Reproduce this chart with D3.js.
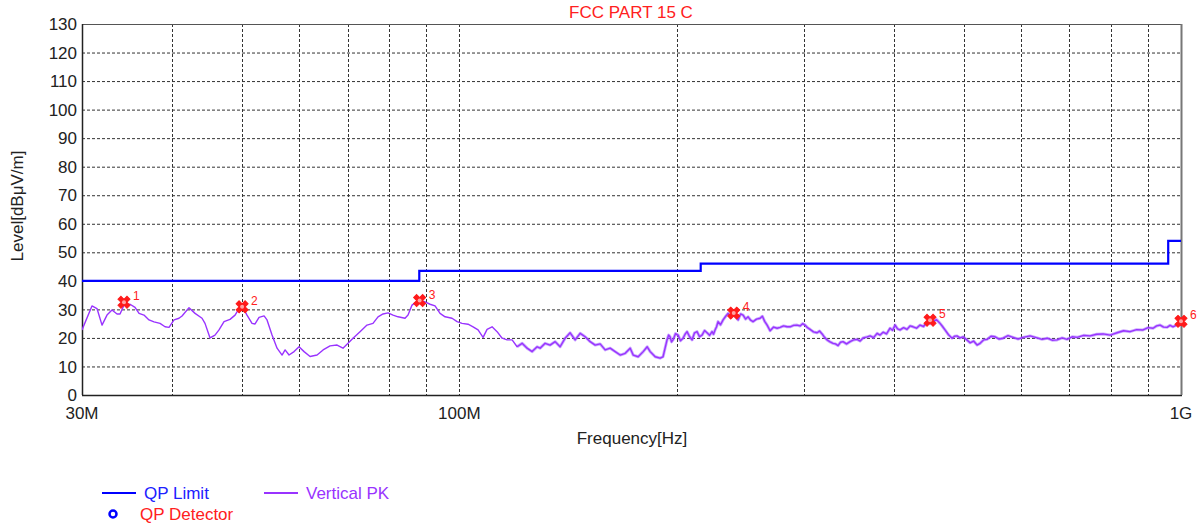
<!DOCTYPE html>
<html><head><meta charset="utf-8">
<script src="https://cdn.jsdelivr.net/npm/d3@7"></script>
<style>
body{margin:0;background:#fff;}
svg{display:block;font-family:"Liberation Sans",Arial,sans-serif;}
</style></head>
<body><svg id="c" width="1198" height="524"></svg>
<script>
// ---- data ----
const title = "FCC PART 15 C";
const yTicks = [0,10,20,30,40,50,60,70,80,90,100,110,120,130];
const xTickLabels = [{f:30,t:"30M"},{f:100,t:"100M"},{f:1000,t:"1G"}];
const xGrid = [40,50,60,70,80,90,100,200,300,400,500,600,700,800,900];
// QP limit (MHz, dBuV/m) step points
const limitFreq = [30,88,88,216,216,960,960,1000];
const limitLevel = [40,40,43.5,43.5,46,46,54,54];
// Vertical PK trace (MHz)
const pkFreq = [30.0,30.97,31.47,31.98,32.49,33.01,33.55,33.87,34.30,34.97,35.53,35.99,36.56,37.15,37.75,38.48,39.10,39.60,40.24,40.88,41.28,42.21,43.03,44.00,44.42,45.14,45.86,46.45,47.20,48.11,48.89,49.51,49.99,50.79,51.61,52.11,52.78,53.63,54.14,55.01,55.90,56.80,57.35,58.08,59.02,59.96,60.93,62.11,63.51,64.74,66.20,67.70,68.99,70.10,71.23,72.84,74.48,75.92,77.15,78.39,79.65,80.93,82.24,84.09,84.90,85.99,86.82,88.22,89.63,91.08,92.54,94.03,95.55,97.70,99.28,100.87,102.82,104.48,106.16,107.87,109.25,111.01,112.80,114.62,116.46,118.34,120.24,122.18,124.14,126.14,128.17,129.40,131.48,133.60,135.75,137.93,140.15,142.41,144.70,147.03,149.39,151.80,154.24,156.72,159.25,161.81,164.41,167.06,169.75,172.48,174.14,176.94,179.79,182.10,183.85,186.81,189.72,191.54,
194.0,195.0,195.87,196.8,197.75,199.3,200.94,202.5,204.17,205.5,206.79,208.4,210.12,211.8,213.50,215.2,216.93,218.7,220.43,222.2,223.97,225.0,226.13,227.2,228.30,230.1,231.98,233.8,235.71,237.6,239.50,241.4,243.36,245.3,247.28,249.3,251.26,253.3,255.30,258.1,261.07,263.0,264.9,267.0,269.53,272.6,275.62,278.27,281.4,284.54,287.28,290.5,293.77,296.57,299.0,301.3,303.7,306.2,309.6,313.1,315.6,318.2,320.7,323.3,326.4,329.5,332.1,334.8,337.5,340.2,344.0,347.9,351.8,355.8,359.2,362.6,366.7,370.8,375.0,379.2,382.8,386.5,390.8,395.2,398.4,401.6,404.8,408.0,412.6,417.2,421.2,425.3,430.1,434.9,439.8,444.7,449.0,453.3,458.4,463.6,467.3,471.0,476.3,481.7,485.5,489.4,494.1,498.9,504.5,510.2,515.9,521.7,526.7,532.6,538.6,545.5,552.5,559.6,566.8,575.9,585.2,594.6,604.2,617.8,631.8,642.0,652.3,662.8,673.4,684.3,695.3,706.5,717.8,733.0,748.2,764.0,779.9,797.5,815.5,832.7,850.0,868.0,886.0,900.4,914.8,925.0,935.5,946.0,956.6,965.8,975.0,987.0,1000];
const pkLevel = [22.8,31.2,30.3,24.5,28.0,29.8,28.4,28.4,31.5,31.8,30.7,28.6,28.0,26.3,25.6,25.1,23.9,23.7,26.3,26.9,27.7,30.6,28.6,26.9,25.1,20.0,21.0,22.8,25.7,26.5,28.0,30.3,31.2,28.0,25.1,24.9,27.2,27.7,26.3,21.0,16.4,14.0,15.8,14.0,15.2,16.9,15.2,13.5,14.0,15.8,17.2,17.5,16.4,18.1,19.9,22.2,24.5,25.1,27.4,28.4,28.8,28.0,27.4,26.9,28.0,31.5,32.3,33.2,32.6,31.8,31.2,28.6,27.4,26.9,25.7,25.1,24.8,23.9,22.8,20.2,23.0,23.9,22.2,19.9,19.3,19.3,16.9,18.1,16.4,15.2,16.9,16.4,18.1,17.5,18.7,16.9,19.9,21.8,19.3,21.6,20.4,18.7,17.5,17.9,15.8,16.4,15.2,14.0,14.6,16.4,14.0,13.4,15.2,16.9,15.2,13.4,12.9,13.4,
19.3,21.0,20.4,18.6,19.3,21.5,21.0,19.0,19.9,21.3,22.2,20.5,19.3,21.8,22.2,20.4,21.0,22.6,21.8,20.9,22.2,21.3,22.8,23.9,25.7,24.6,26.3,27.5,28.6,27.2,28.6,27.5,26.3,28.4,28.0,26.6,27.4,26.2,25.7,26.6,26.9,27.6,25.8,24.5,22.5,23.8,23.4,23.7,24.2,23.9,23.9,24.4,24.5,24.2,25.0,24.5,23.6,23.0,22.1,21.8,22.4,21.4,20.2,19.3,18.6,18.1,17.9,17.3,18.5,18.7,17.9,18.7,19.3,19.5,18.9,20.0,20.3,20.7,20.1,21.6,21.0,22.0,21.4,23.4,22.7,24.5,23.2,22.8,23.6,23.0,24.2,23.9,23.4,24.5,24.0,25.7,25.0,25.7,26.4,25.1,24.0,22.8,21.1,19.9,20.6,20.7,20.0,20.4,19.4,18.3,18.9,17.5,18.1,19.3,19.5,20.6,20.4,19.6,19.9,20.8,20.2,19.6,20.2,20.7,20.0,19.5,19.9,19.2,19.3,20.0,19.5,20.4,20.2,20.9,20.7,21.3,21.4,21.0,21.8,22.5,22.2,22.9,22.8,23.6,23.4,24.2,24.5,23.8,23.7,24.4,23.9,24.6,24.5];
// Marker (final peaks)
const markerNo = ["1","2","3","4","5","6"];
const markerFreq = [34.3,50.0,88.1,240.0,449.0,1000];
const markerLevel = [32.5,30.9,33.1,28.7,26.2,25.8];
const legendItems = ["QP Limit","Vertical PK","QP Detector"];

// ---- layout ----
const svg = d3.select("#c");
const L=82, R=1181, T=24, B=395;
const x = d3.scaleLog().domain([30,1000]).range([L,R]);
const y = d3.scaleLinear().domain([0,130]).range([B,T]);

// grid
const g = svg.append("g");
g.selectAll(".hg").data(yTicks.filter(v=>v>0&&v<130)).join("line")
  .attr("x1",L).attr("x2",R).attr("y1",d=>y(d)+0.5).attr("y2",d=>y(d)+0.5)
  .attr("stroke","#333").attr("stroke-width",1).attr("stroke-dasharray","3,2");
g.selectAll(".vg").data(xGrid).join("line")
  .attr("x1",d=>Math.round(x(d))+0.5).attr("x2",d=>Math.round(x(d))+0.5).attr("y1",T).attr("y2",B)
  .attr("stroke","#333").attr("stroke-width",1).attr("stroke-dasharray","3,2");

// frame
svg.append("line").attr("x1",L).attr("x2",R).attr("y1",T+0.5).attr("y2",T+0.5).attr("stroke","#555").attr("stroke-width",1.2);
svg.append("line").attr("x1",L).attr("x2",R+1).attr("y1",B+0.5).attr("y2",B+0.5).attr("stroke","#222").attr("stroke-width",1.5);
svg.append("line").attr("x1",L+0.5).attr("x2",L+0.5).attr("y1",T).attr("y2",B).attr("stroke","#222").attr("stroke-width",1.5);
svg.append("line").attr("x1",R+0.5).attr("x2",R+0.5).attr("y1",T).attr("y2",B).attr("stroke","#777").attr("stroke-width",2);

// y tick labels
svg.append("g").selectAll("text").data(yTicks).join("text")
  .attr("x",77).attr("y",d=>y(d)).attr("dy","0.36em").attr("text-anchor","end")
  .attr("font-size",17).attr("fill","#222").text(d=>d);
// x tick labels
svg.append("g").selectAll("text").data(xTickLabels).join("text")
  .attr("x",d=>x(d.f)).attr("y",419).attr("text-anchor","middle")
  .attr("font-size",17).attr("fill","#222").text(d=>d.t);

// axis titles
svg.append("text").attr("x",632).attr("y",444).attr("text-anchor","middle").attr("font-size",17).attr("fill","#222").text("Frequency[Hz]");
svg.append("text").attr("transform","translate(23,206) rotate(-90)").attr("text-anchor","middle").attr("font-size",17).attr("fill","#222").text("Level[dBμV/m]");
svg.append("text").attr("x",631).attr("y",18).attr("text-anchor","middle").attr("font-size",17).attr("fill","#ff2020").text(title);

// clip
svg.append("clipPath").attr("id","clip").append("rect").attr("x",L).attr("y",T).attr("width",R-L+1).attr("height",B-T);

// PK trace: low band thin, high band (dense noisy sweep) drawn as a thicker band
const pk = pkFreq.map((f,i)=>[f,pkLevel[i]]);
const line = d3.line().x(d=>x(d[0])).y(d=>y(d[1]));
svg.append("path").datum(pk.filter(d=>d[0]>=120)).attr("clip-path","url(#clip)")
  .attr("d",line).attr("fill","none").attr("stroke","#a064ff").attr("stroke-width",3).attr("stroke-linejoin","round").attr("opacity",0.55);
svg.append("path").datum(pk).attr("clip-path","url(#clip)")
  .attr("d",line).attr("fill","none").attr("stroke","#9933ff").attr("stroke-width",1.4).attr("stroke-linejoin","round");

// limit
const lim = limitFreq.map((f,i)=>[f,limitLevel[i]]);
svg.append("path").datum(lim)
  .attr("d",d3.line().x(d=>x(d[0])).y(d=>y(d[1])))
  .attr("fill","none").attr("stroke","#0000ff").attr("stroke-width",2.2);

// markers
const mk = markerFreq.map((f,i)=>({f,l:markerLevel[i],n:markerNo[i]}));
const mg = svg.append("g").selectAll("g").data(mk).join("g")
  .attr("transform",d=>`translate(${x(d.f)},${y(d.l)})`);
mg.append("path").attr("d",d3.symbol(d3.symbolCross,90)).attr("transform","rotate(45)")
  .attr("fill","#ff1a1a").attr("stroke","#ff1a1a").attr("stroke-width",1);
mg.append("circle").attr("r",2).attr("fill","#fff").attr("opacity",0.6);
mg.append("text").attr("x",9).attr("y",-2).attr("font-size",12).attr("fill","#ff2020").text(d=>d.n);

// legend
const lg = svg.append("g");
lg.append("line").attr("x1",102).attr("x2",136).attr("y1",493).attr("y2",493).attr("stroke","#0000ff").attr("stroke-width",2);
lg.append("text").attr("x",144).attr("y",499).attr("font-size",17).attr("fill","#2020ff").text(legendItems[0]);
lg.append("line").attr("x1",264).attr("x2",298).attr("y1",493).attr("y2",493).attr("stroke","#9933ff").attr("stroke-width",2);
lg.append("text").attr("x",306).attr("y",499).attr("font-size",17).attr("fill","#9933ff").text(legendItems[1]);
lg.append("circle").attr("cx",113).attr("cy",514).attr("r",3.5).attr("fill","none").attr("stroke","#0000ff").attr("stroke-width",2.5);
lg.append("text").attr("x",140).attr("y",520).attr("font-size",17).attr("fill","#ff2020").text(legendItems[2]);
</script></body></html>
